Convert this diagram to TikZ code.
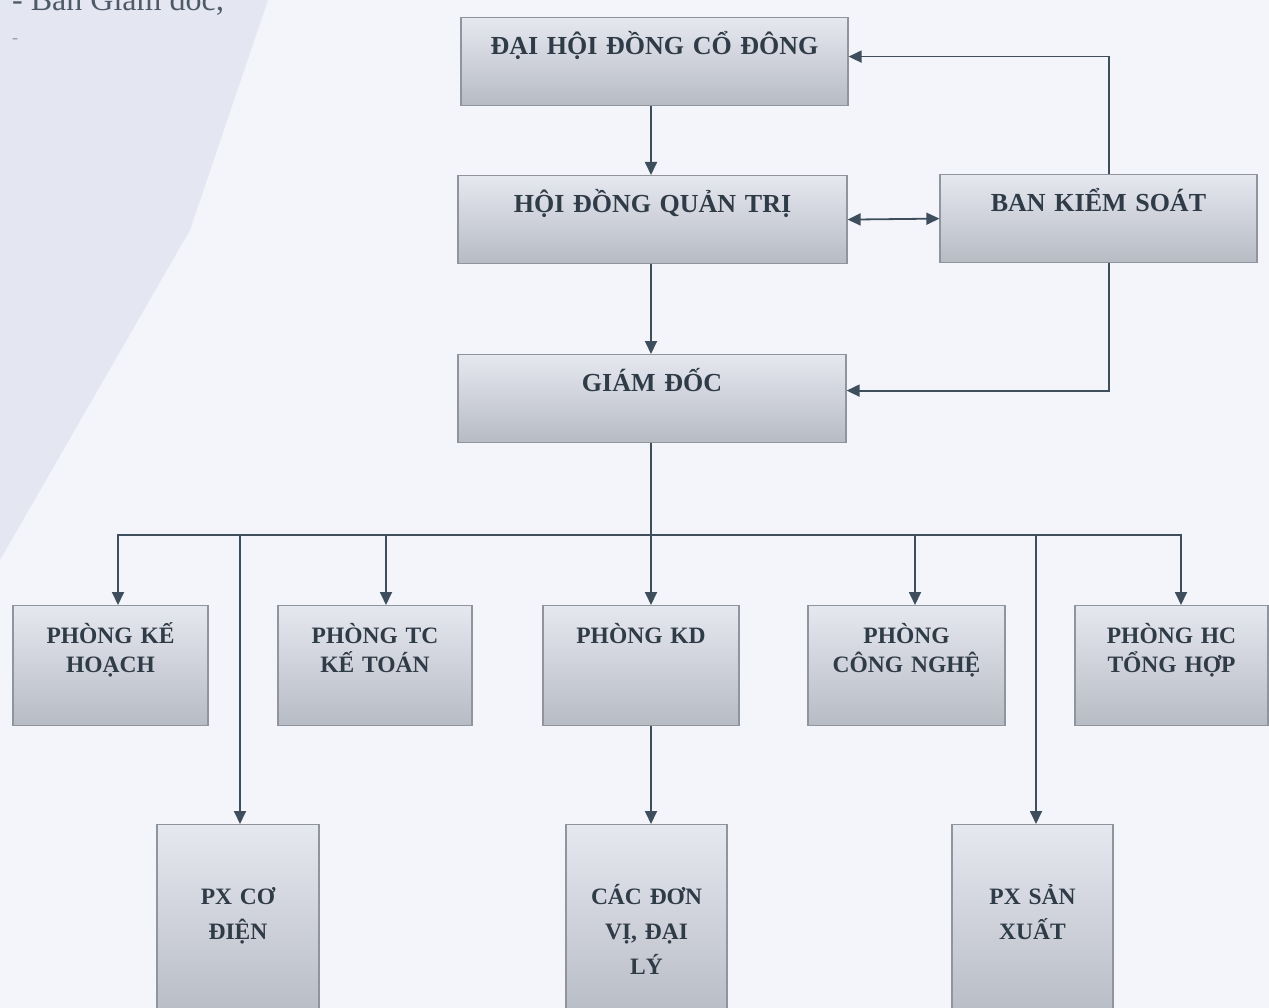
\documentclass[tikz,border=0pt]{standalone}
\usepackage{fontspec}
\setmainfont{Liberation Serif}
\usepackage{xcolor}
\usepackage{tikz}
\usetikzlibrary{arrows.meta}
\definecolor{ink}{HTML}{2F3B47}
\definecolor{wire}{HTML}{3E4E5C}
\definecolor{boxtop}{HTML}{E6E8F0}
\definecolor{boxbot}{HTML}{B7BBC4}
\definecolor{boxline}{HTML}{8F949D}
\definecolor{paper}{HTML}{F4F5FA}
\definecolor{swoosh}{HTML}{E4E7F2}
\definecolor{leadink}{HTML}{4E5A68}

\begin{document}
\begin{tikzpicture}[
  x=1pt,y=-1pt,
  box/.style={draw=boxline,line width=1.2pt,top color=boxtop,bottom color=boxbot,inner sep=0pt,anchor=north,align=center,text=ink},
  headbox/.style={box,text height=37pt,text depth=51pt,font=\fontsize{26}{30}\selectfont\bfseries},
  deptbox/.style={box,text height=38pt,text depth=82pt,font=\fontsize{23.5}{29}\selectfont\bfseries},
  unitbox/.style={box,text height=80pt,text depth=116pt,font=\fontsize{23.5}{35}\selectfont\bfseries},
  line/.style={-{Triangle[length=13pt,width=12pt]},line width=1.8pt,draw=wire},
  twoway/.style={line,{Triangle[length=13pt,width=12pt]}-{Triangle[length=13pt,width=12pt]}},
  bar/.style={line width=1.8pt,draw=wire,line cap=rect},
  lead/.style={anchor=base west,inner sep=0pt,text=leadink}
]
\fill[paper] (0,0) rectangle (1269,1008);
\fill[swoosh] (0,0) -- (268,0) -- (190,230) -- (0,560) -- cycle;
\useasboundingbox (0,0) rectangle (1269,1008);

\node[lead,font=\fontsize{32}{36}\selectfont] (intro) at (12,11) {- Ban Giám đốc;};
\node[lead,text=leadink!60,font=\fontsize{18}{20}\selectfont] (introdash) at (12,44) {-};

% top of the chart
\node[headbox,text width=387pt] (dhdcd) at (654.5,17) {ĐẠI HỘI ĐỒNG CỔ ĐÔNG};
\node[headbox,text width=389pt] (hdqt) at (652.5,175) {HỘI ĐỒNG QUẢN TRỊ};
\node[headbox,text width=317pt] (bks) at (1098.5,174) {BAN KIỂM SOÁT};
\node[headbox,text width=388pt] (gd) at (652,354) {GIÁM ĐỐC};

% phong ban
\node[deptbox,text width=195pt] (kh) at (110.5,605) {PHÒNG KẾ\\HOẠCH};
\node[deptbox,text width=194pt] (tc) at (375,605) {PHÒNG TC\\KẾ TOÁN};
\node[deptbox,text width=196pt] (kd) at (641,605) {PHÒNG KD};
\node[deptbox,text width=197pt] (cn) at (906.5,605) {PHÒNG\\CÔNG NGHỆ};
\node[deptbox,text width=193pt] (hc) at (1171.5,605) {PHÒNG HC\\TỔNG HỢP};

% phan xuong, don vi
\node[unitbox,text width=162pt] (pxcd) at (238,824) {PX CƠ\\ĐIỆN};
\node[unitbox,text width=161pt] (cdv) at (646.5,824) {CÁC ĐƠN\\VỊ, ĐẠI\\LÝ};
\node[unitbox,text width=161pt] (pxsx) at (1032.5,824) {PX SẢN\\XUẤT};

\coordinate (spine) at (651,0);
\coordinate (side) at (1109,0);
\coordinate (b1) at (118,535);
\coordinate (b2) at (240,535);
\coordinate (b3) at (386,535);
\coordinate (b5) at (915,535);
\coordinate (b6) at (1036,535);
\coordinate (b7) at (1181,535);

\draw[line] (spine |- dhdcd.south) -- (spine |- hdqt.north);
\draw[line] (side |- bks.north) |- ([yshift=5pt]dhdcd.east);
\draw[twoway] (hdqt.east) -- (bks.west);
\draw[line] (spine |- hdqt.south) -- (spine |- gd.north);
\draw[line] (side |- bks.south) |- ([yshift=8pt]gd.east);
\draw[line] (spine |- gd.south) -- (spine |- kd.north);
\draw[bar] (b1) -- (b7);
\draw[line] (b1) -- (b1 |- kh.north);
\draw[line] (b2) -- (b2 |- pxcd.north);
\draw[line] (b3) -- (b3 |- tc.north);
\draw[line] (b5) -- (b5 |- cn.north);
\draw[line] (b6) -- (b6 |- pxsx.north);
\draw[line] (b7) -- (b7 |- hc.north);
\draw[line] (spine |- kd.south) -- (spine |- cdv.north);
\end{tikzpicture}
\end{document}
